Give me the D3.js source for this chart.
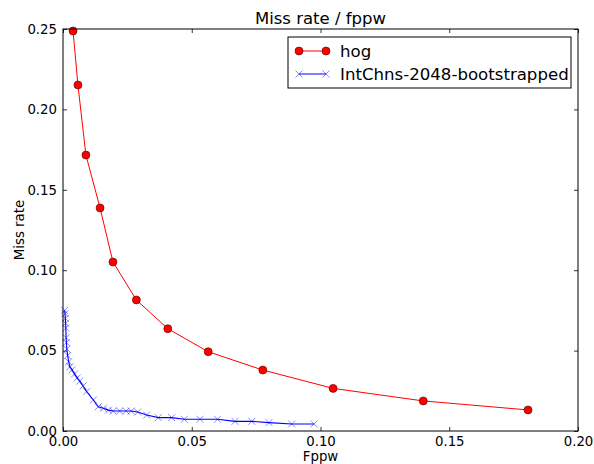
<!DOCTYPE html>
<html>
<head>
<meta charset="utf-8">
<script src="https://cdn.jsdelivr.net/npm/d3@7"></script>
<style>
  body { margin: 0; background: #fff; }
  text { font-family: 'DejaVu Sans', sans-serif; }
</style>
</head>
<body>
<svg width="594" height="464"></svg>
<script>
// hog curve
const hogX = [0.0039, 0.0058, 0.0089, 0.0144, 0.0194, 0.0285, 0.0407, 0.0564, 0.0776, 0.1049, 0.1399, 0.1806]
const hogY = [0.2488, 0.2152, 0.1716, 0.1387, 0.1051, 0.0815, 0.0636, 0.0493, 0.0379, 0.0265, 0.0187, 0.0131]

// IntChns-2048-bootstrapped curve
const icX = [0.0006, 0.0008, 0.0009, 0.0010, 0.0011, 0.0012, 0.0013, 0.0015, 0.0018, 0.0022, 0.0027, 0.0035,
  0.0045, 0.0055, 0.0065, 0.0078, 0.0092, 0.0118, 0.0137, 0.0157, 0.0176, 0.0195, 0.0220, 0.0245, 0.0265,
  0.0290, 0.0325, 0.0370, 0.0422, 0.0471, 0.0532, 0.0600, 0.0668, 0.0733, 0.0800, 0.0888, 0.0975]
const icY = [0.0750, 0.0730, 0.0700, 0.0670, 0.0640, 0.0580, 0.0550, 0.0510, 0.0470, 0.0430, 0.0400, 0.0380,
  0.0355, 0.0330, 0.0310, 0.0280, 0.0245, 0.0193, 0.0151, 0.0141, 0.0130, 0.0124, 0.0124, 0.0124, 0.0124,
  0.0118, 0.0099, 0.0083, 0.0083, 0.0073, 0.0073, 0.0073, 0.0060, 0.0060, 0.0052, 0.0044, 0.0044]

const xTicks = [0, 0.05, 0.1, 0.15, 0.2]
const yTicks = [0, 0.05, 0.1, 0.15, 0.2, 0.25]
const seriesNames = ['hog', 'IntChns-2048-bootstrapped']

let svg = d3.select('svg')
let margin = { left: 63, right: 16, top: 29, bottom: 33 }
let width = 594 - margin.left - margin.right
let height = 464 - margin.top - margin.bottom

let x = d3.scaleLinear().domain([0, 0.2]).range([0, width])
let y = d3.scaleLinear().domain([0, 0.25]).range([height, 0])

let g = svg.append('g').attr('transform', 'translate(' + margin.left + ',' + margin.top + ')')

// clip so the hog curve stays inside the axes
g.append('clipPath').attr('id', 'clip')
  .append('rect').attr('x', -6).attr('y', -6).attr('width', width + 12).attr('height', height + 12)

let fmt = d3.format('.2f')

// axes with inward ticks
function styleAxis (sel) {
  sel.select('.domain').remove()
  sel.selectAll('.tick line').attr('stroke', '#000').attr('stroke-width', 0.8)
  sel.selectAll('.tick text').attr('fill', '#000').style('font-size', '13.3px')
}

g.append('g').attr('transform', 'translate(0,' + height + ')')
  .call(d3.axisBottom(x).tickValues(xTicks).tickFormat(fmt).tickSizeInner(-4).tickSizeOuter(0).tickPadding(6))
  .call(styleAxis)
g.append('g')
  .call(d3.axisTop(x).tickValues(xTicks).tickFormat('').tickSizeInner(-4).tickSizeOuter(0))
  .call(styleAxis)
g.append('g')
  .call(d3.axisLeft(y).tickValues(yTicks).tickFormat(fmt).tickSizeInner(-4).tickSizeOuter(0).tickPadding(6))
  .call(styleAxis)
g.append('g').attr('transform', 'translate(' + width + ',0)')
  .call(d3.axisRight(y).tickValues(yTicks).tickFormat('').tickSizeInner(-4).tickSizeOuter(0))
  .call(styleAxis)

let plot = g.append('g').attr('clip-path', 'url(#clip)')

let hog = hogX.map(function (d, i) { return [d, hogY[i]] })
let ic = icX.map(function (d, i) { return [d, icY[i]] })

let line = d3.line().x(function (d) { return x(d[0]) }).y(function (d) { return y(d[1]) })

plot.append('path').datum(ic).attr('d', line)
  .attr('fill', 'none').attr('stroke', '#0000ff').attr('stroke-width', 1.1)

function xMark (sel, s) {
  sel.append('path')
    .attr('d', 'M' + (-s) + ',' + (-s) + 'L' + s + ',' + s + 'M' + (-s) + ',' + s + 'L' + s + ',' + (-s))
    .attr('stroke', '#0000ff').attr('stroke-opacity', 0.45).attr('stroke-width', 1).attr('fill', 'none')
}

plot.selectAll('.icm').data(ic).enter().append('g')
  .attr('class', 'icm')
  .attr('transform', function (d) { return 'translate(' + x(d[0]) + ',' + y(d[1]) + ')' })
  .call(xMark, 3.5)

plot.append('path').datum(hog).attr('d', line)
  .attr('fill', 'none').attr('stroke', '#ff0000').attr('stroke-width', 1)

plot.selectAll('.hogm').data(hog).enter().append('circle')
  .attr('class', 'hogm')
  .attr('cx', function (d) { return x(d[0]) })
  .attr('cy', function (d) { return y(d[1]) })
  .attr('r', 4)
  .attr('fill', '#ff0000').attr('stroke', '#550000').attr('stroke-width', 0.6)

// frame
g.append('rect').attr('width', width).attr('height', height)
  .attr('fill', 'none').attr('stroke', '#000').attr('stroke-width', 1)

// title and labels
svg.append('text').attr('x', margin.left + width / 2).attr('y', 24)
  .attr('text-anchor', 'middle').style('font-size', '16.5px').text('Miss rate / fppw')
svg.append('text').attr('x', margin.left + width / 2).attr('y', 461)
  .attr('text-anchor', 'middle').style('font-size', '13.3px').text('Fppw')
svg.append('text').attr('transform', 'translate(24,' + (margin.top + height / 2) + ') rotate(-90)')
  .attr('text-anchor', 'middle').style('font-size', '13.3px').text('Miss rate')

// legend
let leg = svg.append('g').attr('transform', 'translate(288,37)')
leg.append('rect').attr('width', 283).attr('height', 51)
  .attr('fill', '#fff').attr('stroke', '#000').attr('stroke-width', 1)

let row0 = leg.append('g').attr('transform', 'translate(0,14)')
row0.append('line').attr('x1', 11).attr('x2', 38).attr('stroke', '#ff0000')
row0.selectAll('circle').data([11, 38]).enter().append('circle')
  .attr('cx', function (d) { return d }).attr('r', 4)
  .attr('fill', '#ff0000').attr('stroke', '#550000').attr('stroke-width', 0.6)
row0.append('text').attr('x', 52).attr('y', 6).style('font-size', '16.6px').text(seriesNames[0])

let row1 = leg.append('g').attr('transform', 'translate(0,37)')
row1.append('line').attr('x1', 11).attr('x2', 38).attr('stroke', '#0000ff')
row1.selectAll('.lm').data([11, 38]).enter().append('g')
  .attr('class', 'lm')
  .attr('transform', function (d) { return 'translate(' + d + ',0)' })
  .call(xMark, 3.5)
row1.append('text').attr('x', 52).attr('y', 6).style('font-size', '16.6px').text(seriesNames[1])
</script>
</body>
</html>
